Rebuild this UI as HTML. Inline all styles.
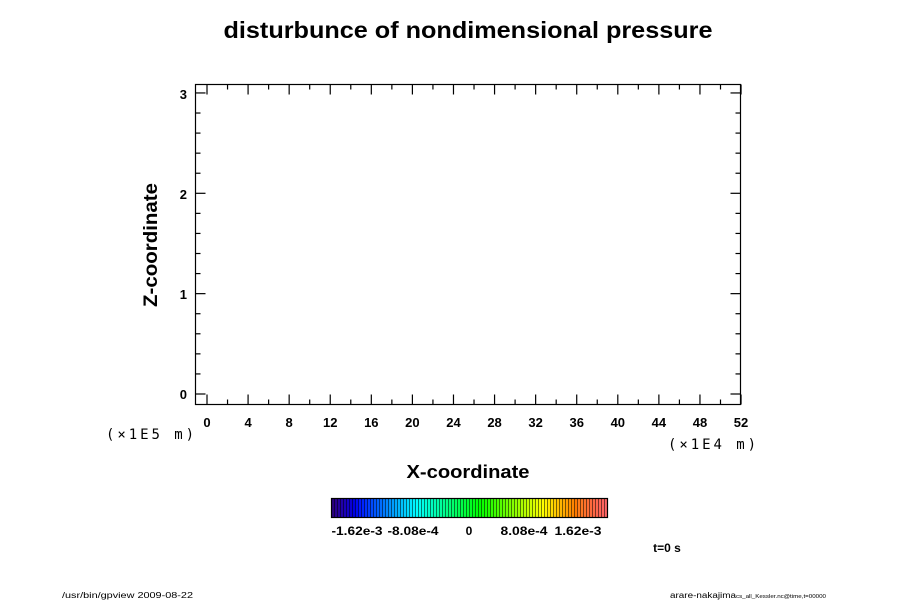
<!DOCTYPE html>
<html><head><meta charset="utf-8"><style>
html,body{margin:0;padding:0;background:#fff;}
svg{display:block;font-family:"Liberation Sans",sans-serif;}
</style></head><body>
<svg id="s" width="900" height="600" viewBox="0 0 900 600" xmlns="http://www.w3.org/2000/svg">
<rect width="900" height="600" fill="#fff"/>
<text x="468" y="38" font-size="23" font-weight="bold" text-anchor="middle" textLength="489" lengthAdjust="spacingAndGlyphs">disturbunce of nondimensional pressure</text>
<rect x="195.5" y="84.5" width="545" height="320" fill="none" stroke="#000" stroke-width="1.2"/>
<g id="ticks" stroke="#000" stroke-width="1.2"></g>
<g font-size="13" font-weight="bold" text-anchor="middle" id="xl"></g>
<g font-size="13" font-weight="bold" text-anchor="end">
<text x="187" y="99">3</text><text x="187" y="199">2</text><text x="187" y="299">1</text><text x="187" y="399">0</text>
</g>
<text x="150" y="439" font-size="14" text-anchor="middle" font-family="DejaVu Sans Mono,monospace" textLength="88">(×1E5 m)</text>
<text x="712" y="449" font-size="14" text-anchor="middle" font-family="DejaVu Sans Mono,monospace" textLength="88">(×1E4 m)</text>
<text x="468" y="478" font-size="18" font-weight="bold" text-anchor="middle" textLength="123" lengthAdjust="spacingAndGlyphs">X-coordinate</text>
<text transform="translate(157,245) rotate(-90)" font-size="19" font-weight="bold" text-anchor="middle" textLength="124" lengthAdjust="spacingAndGlyphs">Z-coordinate</text>
<g id="cb"></g>
<rect x="331.5" y="498.5" width="276" height="19" fill="none" stroke="#000" stroke-width="1.2"/>
<g font-size="12" font-weight="bold" text-anchor="middle">
<text x="357" y="535" textLength="51" lengthAdjust="spacingAndGlyphs">-1.62e-3</text><text x="413" y="535" textLength="51" lengthAdjust="spacingAndGlyphs">-8.08e-4</text><text x="469" y="535">0</text><text x="524" y="535" textLength="47" lengthAdjust="spacingAndGlyphs">8.08e-4</text><text x="578" y="535" textLength="47" lengthAdjust="spacingAndGlyphs">1.62e-3</text>
<text x="667" y="552">t=0 s</text>
</g>
<text x="62" y="598" font-size="8" textLength="131" lengthAdjust="spacingAndGlyphs">/usr/bin/gpview 2009-08-22</text>
<text x="670" y="598" font-size="8" textLength="156" lengthAdjust="spacingAndGlyphs">arare-nakajima<tspan font-size="5">cs_all_Kessler.nc@time,t=00000</tspan></text>
</svg>
<script>
var ns="http://www.w3.org/2000/svg",t=document.getElementById("ticks");
function L(x1,y1,x2,y2){var l=document.createElementNS(ns,"line");l.setAttribute("x1",x1);l.setAttribute("y1",y1);l.setAttribute("x2",x2);l.setAttribute("y2",y2);t.appendChild(l);}
for(var i=0;i<=26;i++){var x=207+i*20.54,len=i%2==0?10:5;L(x,404.5,x,404.5-len);L(x,84.5,x,84.5+len);
if(i%2==0){var tx=document.createElementNS(ns,"text");tx.setAttribute("x",x);tx.setAttribute("y",427);tx.textContent=i*2;document.getElementById("xl").appendChild(tx);}}
for(var j=0;j<=15;j++){var y=394-j*20.07,len=j%5==0?10:5;L(195.5,y,195.5+len,y);L(740.5,y,740.5-len,y);}
var cb=document.getElementById("cb"),n=92;
for(var k=0;k<n;k++){var f=k/(n-1);
var h=260-f*260;var light=f>0.9?55+(f-0.9)*150:50;if(f<0.1)light=25+f*250;
var r=document.createElementNS(ns,"rect");var w=276/n;r.setAttribute("x",331.5+k*w);r.setAttribute("y",498.5);r.setAttribute("width",w);r.setAttribute("height",19);
r.setAttribute("fill","hsl("+h+",100%,"+light+"%)");r.setAttribute("stroke","#000");r.setAttribute("stroke-width","0.4");cb.appendChild(r);}
</script>
</body></html>
